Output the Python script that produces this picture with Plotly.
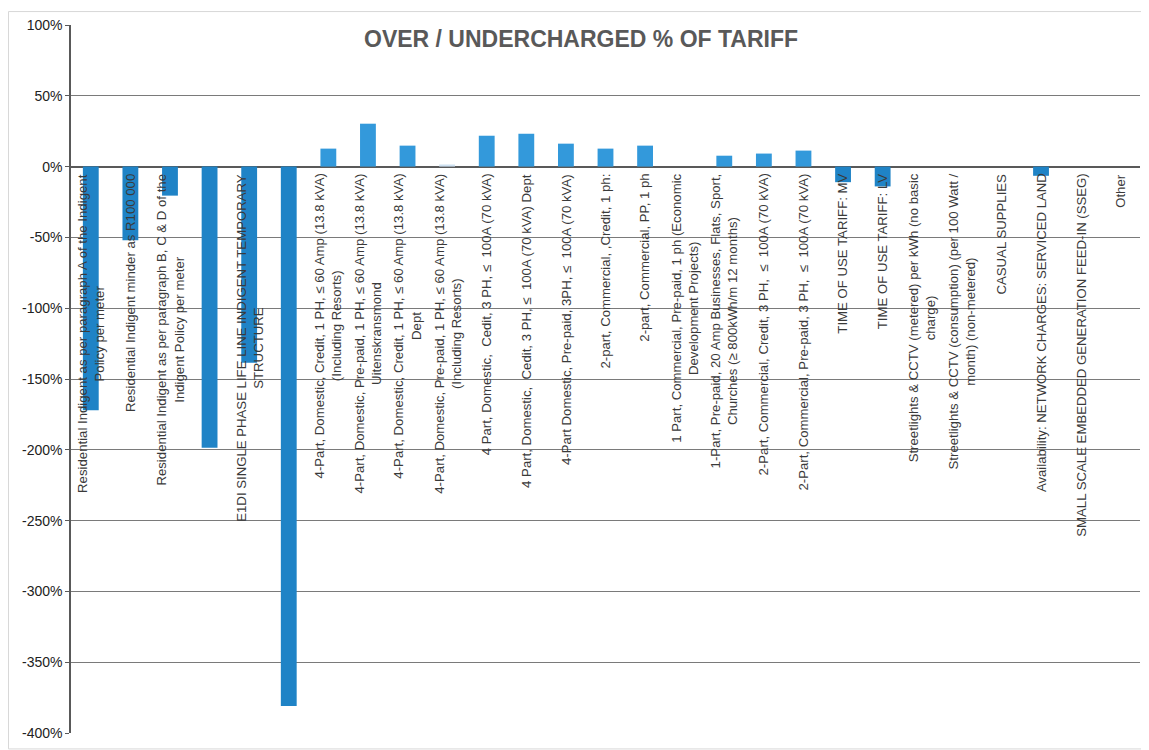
import plotly.graph_objects as go

categories = [
    "Residential Indigent as per paragraph A of the Indigent<br>Policy per meter",
    "Residential Indigent minder as R100 000",
    "Residential Indigent as per paragraph B, C & D of the<br>Indigent Policy per meter",
    "",
    "E1DI SINGLE PHASE LIFE LINE INDIGENT TEMPORARY<br>STRUCTURE",
    "",
    "4-Part, Domestic, Credit, 1 PH, ≤ 60 Amp (13.8 kVA)<br>(Including Resorts)",
    "4-Part, Domestic, Pre-paid, 1 PH, ≤ 60 Amp (13.8 kVA)<br>Uitenskransmond",
    "4-Part, Domestic, Credit, 1 PH, ≤ 60 Amp (13.8 kVA)<br>Dept",
    "4-Part, Domestic, Pre-paid, 1 PH, ≤ 60 Amp (13.8 kVA)<br>(Including Resorts)",
    "4 Part, Domestic,  Cedit, 3 PH, ≤  100A (70 kVA)",
    "4 Part, Domestic,  Cedit, 3 PH, ≤  100A (70 kVA) Dept",
    "4-Part Domestic, Pre-paid, 3PH, ≤  100A (70 kVA)",
    "2-part, Commercial, ,Credit, 1 ph:",
    "2-part, Commercial, PP, 1 ph",
    "1 Part, Commercial, Pre-paid, 1 ph (Economic<br>Development Projects)",
    "1-Part, Pre-paid, 20 Amp Businesses, Flats, Sport,<br>Churches (≥ 800kWh/m 12 months)",
    "2-Part, Commercial, Credit, 3 PH,  ≤  100A (70 kVA)",
    "2-Part, Commercial, Pre-paid, 3 PH,  ≤  100A (70 kVA)",
    "TIME OF USE TARIFF: MV",
    "TIME OF USE TARIFF: LV",
    "Streetlights & CCTV (metered) per kWh (no basic<br>charge)",
    "Streetlights & CCTV (consumption) (per 100 Watt /<br>month) (non-metered)",
    "CASUAL SUPPLIES",
    "Availability: NETWORK CHARGES: SERVICED LAND",
    "SMALL SCALE EMBEDDED GENERATION FEED-IN (SSEG)",
    "Other",
]

values = [
    -172, -52, -20.5, -198.5, -138.5, -381,
    12.7, 30.3, 14.8, 1.5, 21.8, 23.2, 16.2, 12.7, 14.8, 0,
    7.7, 9.2, 11.3, -11, -14, 0, 0, 0, -6.5, 0, 0,
]

y_ticks = [100, 50, 0, -50, -100, -150, -200, -250, -300, -350, -400]
y_tick_labels = [f"{t}%" for t in y_ticks]

x_pos = list(range(len(categories)))

bar_colors = []
for i, v in enumerate(values):
    if i == 9:
        bar_colors.append("#cfe2f2")
    elif v < 0:
        bar_colors.append("#1f83c6")
    else:
        bar_colors.append("#3399db")

W, H = 1141, 742
ML, MR, MT, MB = 63, 9, 14, 17
PW, PH = W - ML - MR, H - MT - MB

fig = go.Figure()
fig.add_trace(go.Bar(
    x=x_pos, y=values, width=0.4,
    marker=dict(color=bar_colors, line=dict(width=0)),
    hoverinfo="skip",
))

for i, lab in enumerate(categories):
    if not lab:
        continue
    fig.add_annotation(
        x=i, y=0, xref="x", yref="y",
        text=lab, textangle=-90, showarrow=False,
        xanchor="center", yanchor="top", yshift=-5,
        align="center",
        font=dict(family="Liberation Sans, Arial, sans-serif", size=13.2, color="#3a3a3a"),
    )

fig.add_annotation(
    x=(573 - ML) / PW, y=(H - MB - 28) / PH,
    xref="paper", yref="paper",
    text="<b>OVER / UNDERCHARGED % OF TARIFF</b>", showarrow=False,
    xanchor="center", yanchor="middle",
    font=dict(family="Liberation Sans, Arial, sans-serif", size=23, color="#595959"),
)

fig.add_shape(type="rect", xref="paper", yref="paper",
              x0=(0.5 - ML) / PW, x1=(W - 1 - ML) / PW,
              y0=(H - MB - (H - 1)) / PH, y1=(H - MB - 0.5) / PH,
              line=dict(color="#d8d8d8", width=1), fillcolor="rgba(0,0,0,0)", layer="below")

fig.update_layout(
    width=W, height=H,
    margin=dict(l=ML, r=MR, t=MT, b=MB),
    paper_bgcolor="white", plot_bgcolor="white",
    showlegend=False,
    xaxis=dict(
        range=[-0.5, len(categories) - 0.5],
        showticklabels=False, showgrid=False, zeroline=False,
        showline=False, ticks="",
    ),
    yaxis=dict(
        range=[-400, 100],
        tickvals=y_ticks, ticktext=y_tick_labels,
        tickfont=dict(family="Liberation Sans, Arial, sans-serif", size=14, color="#222222"),
        showgrid=True, gridcolor="#7a7a7a", gridwidth=1,
        zeroline=True, zerolinecolor="#595959", zerolinewidth=1.5,
        showline=True, linecolor="#595959", linewidth=1.5,
        ticks="outside", ticklen=4, tickcolor="#595959",
    ),
)

fig.write_html("out.html")
